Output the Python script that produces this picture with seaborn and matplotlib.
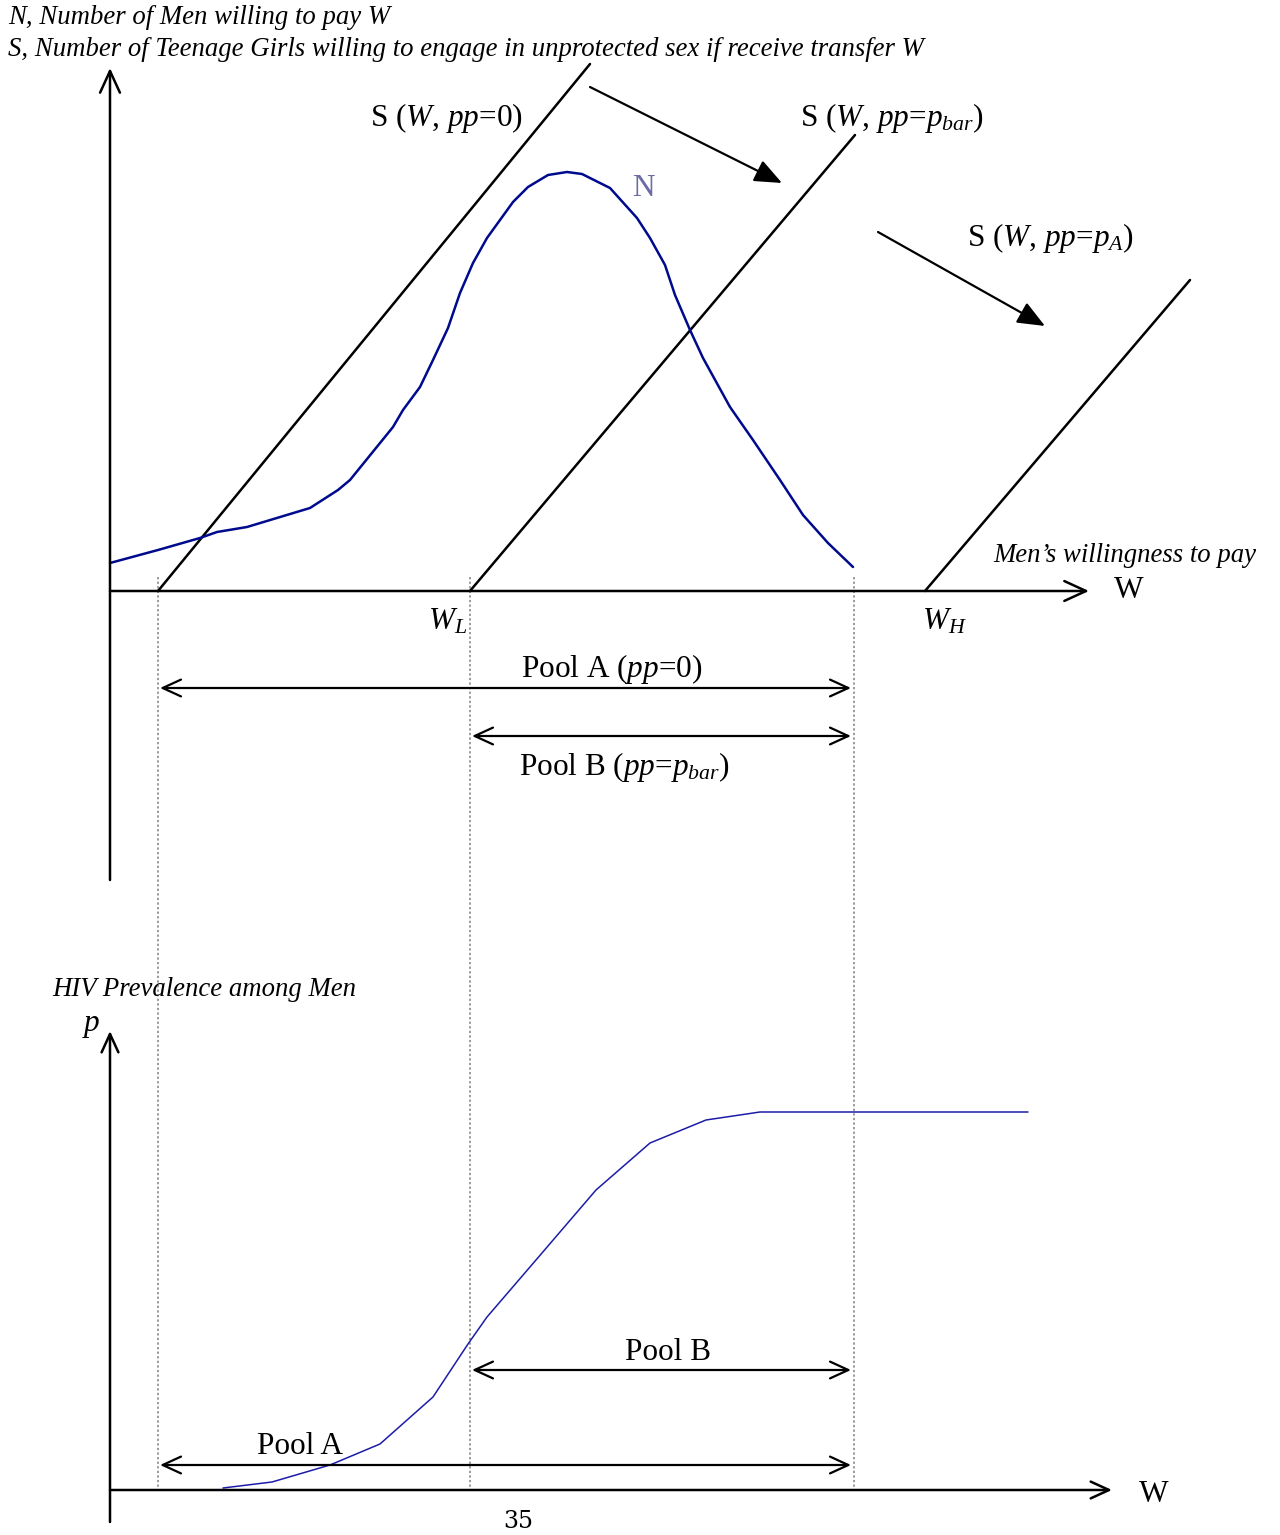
import numpy as np
import matplotlib
matplotlib.use("Agg")
import matplotlib.pyplot as plt
import seaborn as sns

# N curve: men willing to pay W (picture coordinates, y downwards)
n_x = [110, 158, 200, 217, 247, 310, 338, 350, 393, 403, 420, 433, 448, 460, 473,
       487, 513, 528, 548, 567, 582, 610, 637, 650, 665, 675, 690, 703, 730, 753,
       780, 803, 828, 853]
n_y = [563, 550, 538, 532, 527, 508, 490, 480, 427, 410, 387, 360, 328, 293, 263,
       238, 202, 187, 175, 172, 174, 188, 218, 238, 265, 295, 330, 358, 407, 440,
       480, 515, 543, 567]

# HIV prevalence curve p(W)
p_x = [223, 272, 330, 380, 433, 468, 487, 542, 596, 650, 706, 760, 1028]
p_y = [1488, 1482, 1465, 1444, 1397, 1344, 1317, 1253, 1190, 1143, 1120, 1112, 1112]

# supply lines S(W, pp) : start on W axis, end top right
s_names = ["pp=0", "pp=pbar", "pp=pA"]
s_x0 = [158, 470, 925]
s_y0 = [591, 591, 591]
s_x1 = [590, 855, 1190]
s_y1 = [64, 135, 280]

# cut-offs (dotted guides)
cut_x = [158, 470, 854]

sns.set_theme(style="white")
plt.rcParams['font.family'] = ['Liberation Serif', 'DejaVu Serif']
plt.rcParams['text.color'] = 'black'
plt.rcParams['mathtext.fontset'] = 'custom'
plt.rcParams['mathtext.rm'] = 'Liberation Serif'
plt.rcParams['mathtext.it'] = 'Liberation Serif:italic'

fig = plt.figure(figsize=(12.8, 15.35), dpi=100)
ax = fig.add_axes([0, 0, 1, 1])
ax.set_xlim(0, 1280)
ax.set_ylim(1535, 0)
ax.axis('off')

BIG = 22.5
SMALL = 19.3

def arrow(x0, y0, x1, y1, style='->', lw=1.8, **kw):
    ax.annotate('', xy=(x1, y1), xytext=(x0, y0),
                arrowprops=dict(arrowstyle=style, lw=lw, color='black',
                                shrinkA=0, shrinkB=0, **kw))

open_head = 'head_length=1.2,head_width=0.55'

# dotted guides
for cx in cut_x:
    ax.plot([cx, cx], [577, 1490], color='#808080', lw=1.1, ls=(0, (1.5, 1.5)))

# top axes
arrow(110, 880, 110, 68, style='->,' + open_head, mutation_scale=13)
arrow(110, 591, 1089, 591, style='->,' + open_head, mutation_scale=13)

# supply lines
for i in range(len(s_names)):
    sns.lineplot(x=[s_x0[i], s_x1[i]], y=[s_y0[i], s_y1[i]], ax=ax,
                 color='black', lw=1.8, sort=False, estimator=None)

# N curve
sns.lineplot(x=n_x, y=n_y, ax=ax, color='#000a8c', lw=1.8, sort=False, estimator=None)

# shift arrows
arrow(590, 87, 782, 183, style='-|>,head_length=1.2,head_width=0.5', lw=1.6, mutation_scale=14)
arrow(878, 232, 1045, 326, style='-|>,head_length=1.2,head_width=0.5', lw=1.6, mutation_scale=14)

# pool arrows (top)
pool = '<->,' + open_head
arrow(160, 688, 851, 688, style=pool, lw=1.6, mutation_scale=11)
arrow(472, 736, 851, 736, style=pool, lw=1.6, mutation_scale=11)

# bottom axes
arrow(110, 1522, 110, 1031, style='->,' + open_head, mutation_scale=11)
arrow(110, 1490, 1112, 1490, style='->,' + open_head, mutation_scale=11)

# prevalence curve
sns.lineplot(x=p_x, y=p_y, ax=ax, color='#1c1ca8', lw=1.1, sort=False, estimator=None)

# pool arrows (bottom)
arrow(472, 1370, 851, 1370, style=pool, lw=1.6, mutation_scale=11)
arrow(160, 1465, 851, 1465, style=pool, lw=1.6, mutation_scale=11)

# texts
it = dict(style='italic', fontsize=SMALL, va='center', ha='left')
ax.text(8, 18, 'N, Number of Men willing to pay W', **it)
ax.text(8, 49, 'S, Number of Teenage Girls willing to engage in unprotected sex if receive transfer W', **it)
ax.text(993, 556, 'Men\u2019s willingness to pay', **it)
ax.text(52, 990, 'HIV Prevalence among Men', **it)

rm = dict(fontsize=BIG, va='center', ha='left')
ax.text(370, 118, 'S ($W$, $pp$=0)', **rm)
ax.text(800, 118, 'S ($W$, $pp$=$p_{bar}$)', **rm)
ax.text(967, 238, 'S ($W$, $pp$=$p_{A}$)', **rm)
ax.text(632, 188, 'N', fontsize=BIG, va='center', ha='left', color='#6b6ba6')
ax.text(1114, 590, 'W', **rm)
ax.text(428, 622, '$W_L$', **rm)
ax.text(922, 622, '$W_H$', **rm)
ax.text(521, 669, 'Pool A ($pp$=0)', **rm)
ax.text(519, 767, 'Pool B ($pp$=$p_{bar}$)', **rm)
ax.text(82, 1025, '$p$', **rm)
ax.text(625, 1352, 'Pool B', **rm)
ax.text(257, 1447, 'Pool A', **rm)
ax.text(1139, 1495, 'W', **rm)
ax.text(503, 1522, '35', fontsize=17, va='center', ha='left', family='DejaVu Serif')

fig.savefig('out.png', dpi=100)
